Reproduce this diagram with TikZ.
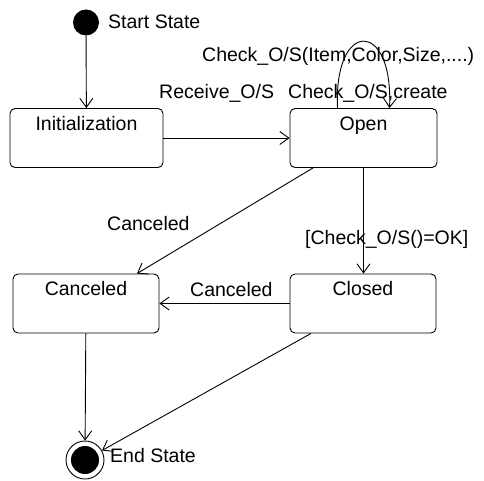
\documentclass[tikz,border=0pt]{standalone}
\usepackage{fontspec}
\setmainfont{Liberation Sans}
\usetikzlibrary{arrows.meta}
\begin{document}
\begin{tikzpicture}[x=1pt,y=-1pt,
  every node/.style={font=\fontsize{19.5}{22}\selectfont},
  statebox/.style={draw, rounded corners=5pt, line width=0.9pt, inner sep=0pt,
    minimum width=150pt, minimum height=59pt},
  trans/.style={line width=0.9pt, -{Straight Barb[length=9pt,width=13pt,line width=0.9pt]}},
  lbl/.style={inner sep=0pt, anchor=base west},
  boxtitle/.style={anchor=base, yshift=-22pt}]
\useasboundingbox (0,0) rectangle (484,481);

% states
\node[circle, fill=black, minimum size=26pt, inner sep=0pt] (start) at (86,22.5) {};
\node[lbl] (startT) at (108,29) {Start State};

\node[statebox, minimum width=153pt, label={[boxtitle]north:Initialization}] (init) at (86.5,138) {};
\node[statebox, minimum width=147pt, label={[boxtitle]north:Open}] (open) at (363.5,138) {};
\node[statebox, minimum width=146pt, label={[boxtitle]north:Canceled}] (canc) at (86,303.5) {};
\node[statebox, minimum width=146pt, label={[boxtitle]north:Closed}] (closed) at (363,303.5) {};

\node[circle, draw, line width=0.9pt, minimum size=38pt, inner sep=0pt] (end) at (85,460) {};
\fill (end.center) circle (14);
\node[lbl] (endT) at (110,462) {End State};

% transition labels
\node[lbl] (loopT) at (202,62) {Check\_O/S(Item,Color,Size,....)};
\node[lbl] (recvT) at (159,99) {Receive\_O/S};
\node[lbl] (createT) at (288,99) {Check\_O/S,create};
\node[lbl] (cancT1) at (107,230) {Canceled};
\node[lbl] (okT) at (305,244) {[Check\_O/S()=OK]};
\node[lbl] (cancT2) at (190,296) {Canceled};

% transitions
\coordinate (loopL) at ([xshift=-26pt]open.north);
\coordinate (loopR) at ([xshift=26pt]open.north);
\draw[trans] (start) -- (init);
\draw[trans] (init) -- (open);
\draw[trans] (loopL) .. controls +(-4,-89) and +(4,-89) .. (loopR);
\draw[trans] ([xshift=-50.5pt]open.south) -- ([xshift=51pt]canc.north);
\draw[trans] (open.south) -- (open.south |- closed.north);
\draw[trans] (closed) -- (canc);
\draw[trans] (canc) -- (end);
\draw[trans] ([xshift=-52pt]closed.south) -- (end);
\end{tikzpicture}
\end{document}
